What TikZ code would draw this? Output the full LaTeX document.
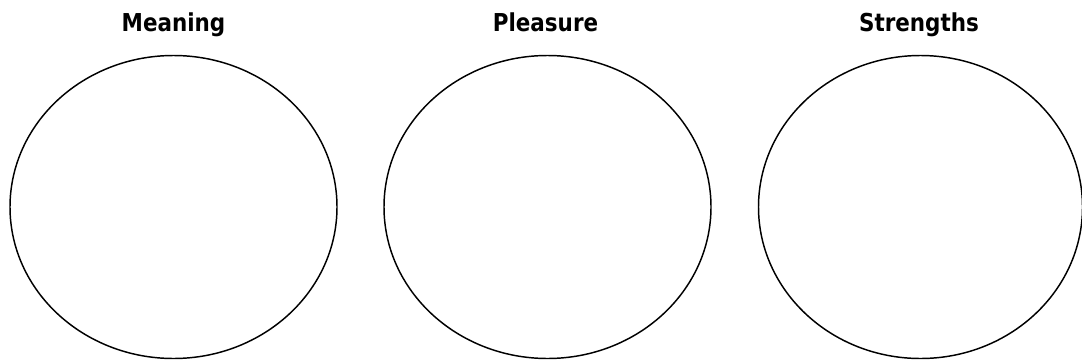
\documentclass[tikz,border=0pt]{standalone}
\usepackage{fontspec}
\newfontfamily\titlefont[FakeStretch=0.87]{DejaVu Sans}
\begin{document}
\begin{tikzpicture}[x=0.75pt,y=-0.75pt,
  title/.style={font=\titlefont\bfseries\fontsize{18.5pt}{20pt}\selectfont, anchor=base, inner sep=0pt, text=black},
  ring/.style={draw=black, line width=1.1pt}]
\clip (0,0) rectangle (1082,361);
\fill[white] (0,0) rectangle (1082,361);
\coordinate (c1) at (173.5,207);
\coordinate (c2) at (547.5,207);
\coordinate (c3) at (920.5,207);
\draw[ring] (c1) ellipse [x radius=163.5, y radius=151.5];
\draw[ring] (c2) ellipse [x radius=163.5, y radius=151.5];
\draw[ring] (c3) ellipse [x radius=162, y radius=151.5];
\node[title] (t1) at (173.5,31) {Meaning};
\node[title] (t2) at (545.5,31) {Pleasure};
\node[title] (t3) at (919,31) {Strengths};
\end{tikzpicture}
\end{document}
